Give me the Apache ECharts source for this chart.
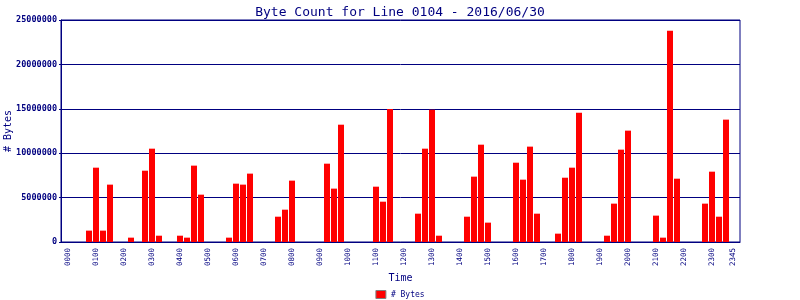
<!DOCTYPE html>
<html>
<head>
<meta charset="utf-8">
<script src="https://cdn.jsdelivr.net/npm/echarts@6/dist/echarts.min.js"></script>
<style>
html,body{margin:0;padding:0;background:#fff;}
#c{width:800px;height:300px;}
</style>
</head>
<body>
<div id="c"></div>
<script>
// 15-minute time slots, 0000 .. 2345
var times = [];
for (var h = 0; h < 24; h++) {
  for (var m = 0; m < 60; m += 15) {
    times.push((h < 10 ? '0' : '') + h + (m < 10 ? '0' : '') + m);
  }
}
// # Bytes per slot
var bytes = [
  0, 0, 0, 1280000, 8370000, 1280000, 6460000, 0,
  0, 490000, 0, 8030000, 10510000, 710000, 0, 0,
  710000, 490000, 8600000, 5330000, 0, 0, 0, 490000,
  6570000, 6460000, 7700000, 0, 0, 0, 2850000, 3640000,
  6910000, 0, 0, 0, 0, 8820000, 6010000, 13210000,
  0, 0, 0, 0, 6230000, 4540000, 14980000, 0,
  0, 0, 3190000, 10510000, 14900000, 710000, 0, 0,
  0, 2850000, 7360000, 10960000, 2180000, 0, 0, 0,
  8930000, 7020000, 10740000, 3190000, 0, 0, 940000, 7240000,
  8370000, 14560000, 0, 0, 0, 710000, 4320000, 10400000,
  12540000, 0, 0, 0, 2970000, 490000, 23800000, 7130000,
  0, 0, 0, 4320000, 7920000, 2850000, 13780000, 0
];
var tickLabels = ['0000','0100','0200','0300','0400','0500','0600','0700','0800','0900','1000','1100',
  '1200','1300','1400','1500','1600','1700','1800','1900','2000','2100','2200','2300','2345'];

var navy = '#000080';
var font = 'DejaVu Sans Mono';
var chart = echarts.init(document.getElementById('c'), null, {renderer: 'canvas'});
chart.setOption({
  animation: false,
  backgroundColor: '#ffffff',
  title: {
    text: 'Byte Count for Line 0104 - 2016/06/30',
    left: 'center', top: 1,
    textStyle: {fontFamily: font, fontSize: 13, fontWeight: 'normal', color: navy}
  },
  legend: {
    top: 290, left: 'center',
    icon: 'rect',
    itemWidth: 10, itemHeight: 8, itemGap: 4, padding: 0,
    textStyle: {fontFamily: font, fontSize: 8, color: navy},
    data: [{name: '# Bytes', itemStyle: {color: '#ff0000', borderColor: '#808080', borderWidth: 1}}]
  },
  grid: {
    left: 61, right: 60, top: 20, bottom: 58,
    containLabel: false, outerBoundsMode: 'none',
    show: true, borderColor: navy, borderWidth: 1, backgroundColor: 'transparent'
  },
  xAxis: {
    type: 'value', min: -1, max: 96,
    name: 'Time', nameLocation: 'middle', nameGap: 31, nameMoveOverlap: false,
    nameTextStyle: {fontFamily: font, fontSize: 10, color: navy},
    axisLine: {show: true, onZero: false, lineStyle: {color: navy}},
    axisTick: {show: false},
    splitLine: {show: false},
    axisLabel: {
      customValues: tickLabels.map(function (t) { return times.indexOf(t); }),
      rotate: 90, margin: 6,
      fontFamily: font, fontSize: 7.5, color: navy,
      formatter: function (v) { return times[Math.round(v)]; }
    }
  },
  yAxis: {
    type: 'value', min: 0, max: 25000000, interval: 5000000,
    name: '# Bytes', nameLocation: 'middle', nameGap: 48, nameRotate: 90, nameMoveOverlap: false,
    nameTextStyle: {fontFamily: font, fontSize: 10, color: navy},
    axisLine: {show: true, onZero: false, lineStyle: {color: navy}},
    axisTick: {show: true, length: 2, lineStyle: {color: navy}},
    splitLine: {show: true, lineStyle: {color: navy, width: 1}},
    axisLabel: {
      fontFamily: font, fontSize: 8.5, fontWeight: 'bold', color: navy, margin: 4,
      formatter: function (v) { return String(v); }
    }
  },
  series: [{
    name: '# Bytes', type: 'bar',
    barWidth: 6,
    itemStyle: {color: '#ff0000'},
    data: bytes.map(function (v, i) { return [i, v]; })
  }]
});
</script>
</body>
</html>
